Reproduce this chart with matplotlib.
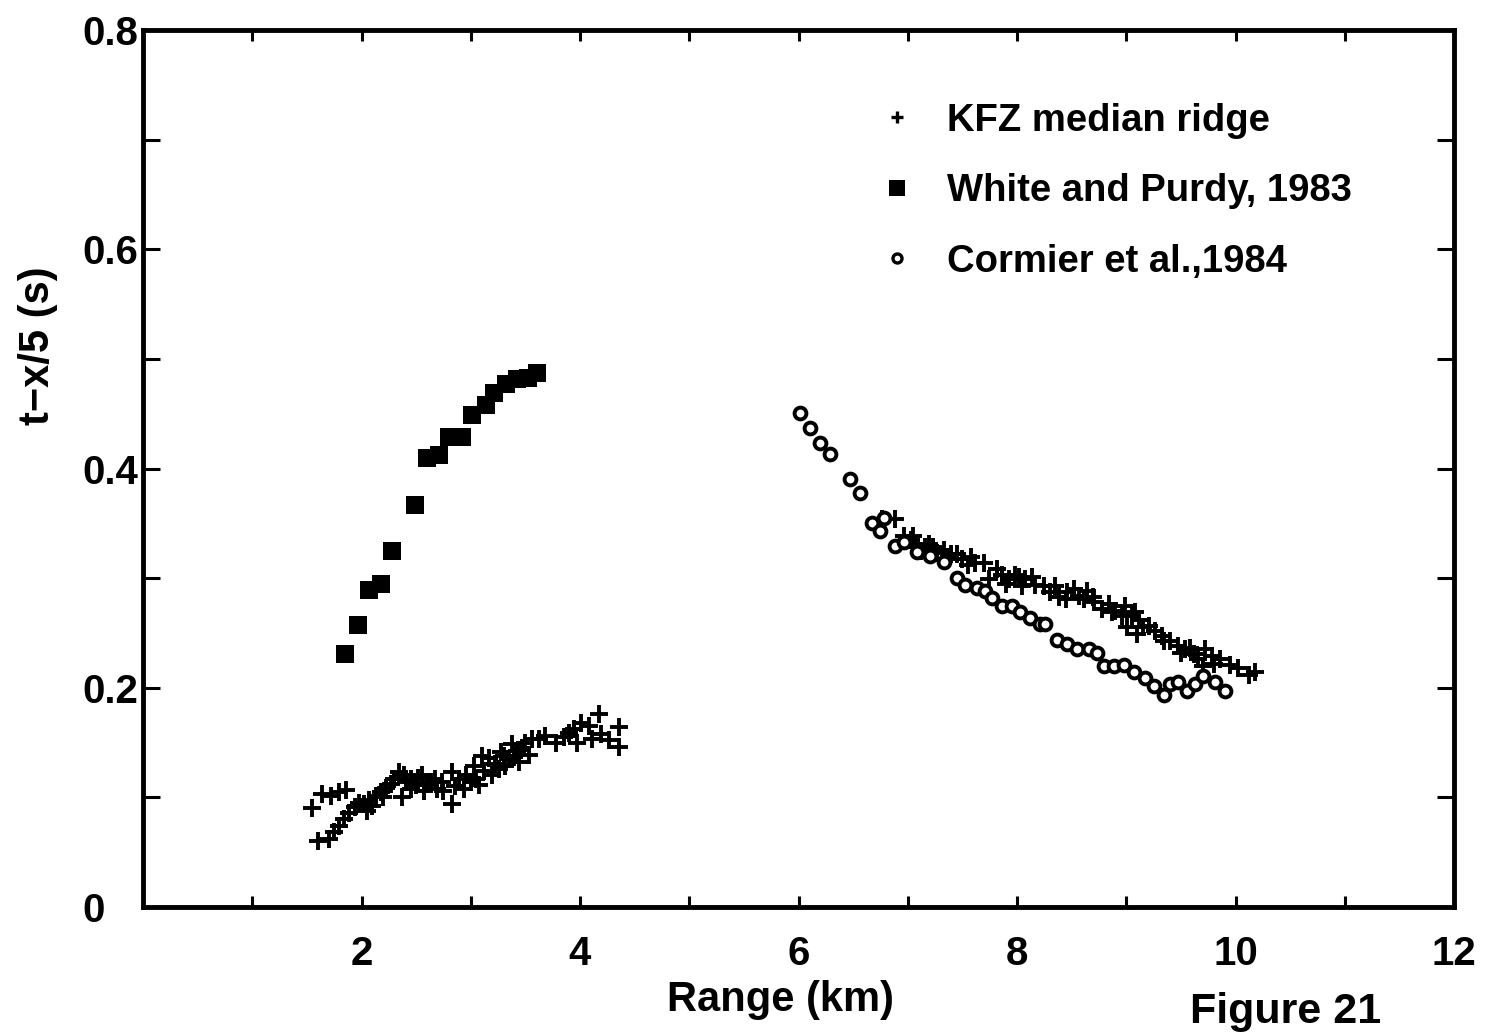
import matplotlib
matplotlib.use("Agg")
import matplotlib.pyplot as plt
from matplotlib.lines import Line2D
from matplotlib.ticker import MultipleLocator

plt.rcParams['font.family'] = ['Liberation Sans', 'DejaVu Sans']
plt.rcParams['font.weight'] = 'bold'

# White and Purdy, 1983 (filled squares)
wp_x = [1.845, 1.97, 2.07, 2.18, 2.28, 2.49, 2.60, 2.71, 2.80, 2.92, 3.01, 3.14,
        3.21, 3.32, 3.42, 3.52, 3.61]
wp_y = [0.231, 0.257, 0.289, 0.295, 0.325, 0.367, 0.410, 0.412, 0.429, 0.429,
        0.449, 0.458, 0.469, 0.477, 0.482, 0.483, 0.487]

# KFZ median ridge (crosses), near-range group
kfz_near_x = [1.549, 1.640, 1.717, 1.793, 1.855, 1.604, 1.702, 1.747, 1.793, 1.839,
              1.885, 1.940, 1.976, 2.022, 2.068, 2.129, 2.175, 2.220, 2.296, 2.342,
              2.388, 2.404, 2.372, 2.449, 2.495, 2.555, 2.571, 2.632, 2.693, 2.738,
              2.830, 2.830, 2.891, 2.937, 2.998, 3.028, 3.074, 3.104, 3.166, 3.196,
              3.257, 3.273, 3.318, 3.349, 3.379, 3.424, 3.440, 3.501, 3.532, 3.562,
              3.623, 3.684, 3.776, 3.852, 3.897, 3.943, 3.974, 4.005, 4.081, 4.111,
              4.172, 4.188, 4.264, 4.355, 4.355,
              2.05, 2.10, 2.20, 2.27, 2.45, 2.52, 2.60, 2.67, 2.75, 2.86, 2.96, 3.05,
              3.12, 3.22, 3.30, 3.40, 3.47]
kfz_near_y = [0.090, 0.103, 0.101, 0.105, 0.107, 0.060, 0.062, 0.068, 0.074, 0.080,
              0.086, 0.091, 0.095, 0.094, 0.098, 0.101, 0.105, 0.109, 0.117, 0.123,
              0.120, 0.114, 0.100, 0.117, 0.111, 0.120, 0.106, 0.114, 0.108, 0.114,
              0.123, 0.094, 0.117, 0.108, 0.114, 0.129, 0.111, 0.138, 0.136, 0.120,
              0.126, 0.141, 0.129, 0.135, 0.149, 0.142, 0.132, 0.150, 0.139, 0.153,
              0.153, 0.156, 0.150, 0.155, 0.159, 0.162, 0.150, 0.168, 0.165, 0.153,
              0.176, 0.158, 0.152, 0.146, 0.164,
              0.088, 0.092, 0.100, 0.112, 0.108, 0.118, 0.112, 0.117, 0.106, 0.110,
              0.120, 0.117, 0.124, 0.130, 0.138, 0.137, 0.145]

# KFZ median ridge (crosses), far-range group
kfz_far_x = [6.761, 6.886, 6.962, 7.026, 7.069, 7.161, 7.191, 7.267, 7.328, 7.374,
             7.447, 7.496, 7.575, 7.618, 7.694, 7.740, 7.813, 7.862, 7.923, 7.984,
             8.015, 8.076, 8.134, 8.167, 8.243, 8.350, 8.381, 8.457, 8.518, 8.564,
             8.609, 8.640, 8.701, 8.777, 8.838, 8.868, 8.960, 8.991, 9.005, 9.082,
             9.097, 9.113, 9.204, 9.265, 9.326, 9.403, 9.478, 9.540, 9.616, 9.661,
             9.707, 9.723, 9.783, 9.860, 9.952, 10.027, 10.119, 10.180,
             7.05, 7.12, 7.23, 7.40, 7.55, 7.90, 8.05, 8.30, 8.45, 8.70, 8.90, 9.05,
             9.15, 9.35, 9.50, 9.58, 9.80]
kfz_far_y = [0.354, 0.354, 0.338, 0.335, 0.331, 0.328, 0.331, 0.323, 0.326, 0.319,
             0.322, 0.317, 0.319, 0.314, 0.314, 0.299, 0.308, 0.303, 0.299, 0.303,
             0.301, 0.299, 0.301, 0.294, 0.293, 0.293, 0.283, 0.287, 0.290, 0.284,
             0.281, 0.288, 0.278, 0.272, 0.276, 0.269, 0.265, 0.275, 0.255, 0.269,
             0.249, 0.262, 0.256, 0.252, 0.247, 0.243, 0.238, 0.235, 0.231, 0.226,
             0.220, 0.235, 0.229, 0.226, 0.221, 0.218, 0.212, 0.214,
             0.338, 0.325, 0.328, 0.322, 0.312, 0.295, 0.293, 0.287, 0.281, 0.283,
             0.270, 0.265, 0.255, 0.243, 0.232, 0.236, 0.222]

# Cormier et al., 1984 (open circles)
cor_x = [6.017, 6.109, 6.200, 6.292, 6.475, 6.566, 6.673, 6.780, 6.749, 6.886,
         6.962, 7.081, 7.207, 7.328, 7.450, 7.527, 7.633, 7.710, 7.771, 7.862,
         7.953, 8.030, 8.122, 8.213, 8.259, 8.365, 8.457, 8.548, 8.655, 8.731,
         8.792, 8.884, 8.975, 9.067, 9.174, 9.250, 9.341, 9.403, 9.478, 9.554,
         9.631, 9.707, 9.814, 9.906]
cor_y = [0.451, 0.437, 0.423, 0.413, 0.390, 0.378, 0.350, 0.355, 0.343, 0.329,
         0.333, 0.324, 0.320, 0.315, 0.300, 0.294, 0.291, 0.288, 0.282, 0.275,
         0.275, 0.269, 0.264, 0.258, 0.258, 0.244, 0.240, 0.235, 0.235, 0.232,
         0.220, 0.220, 0.221, 0.214, 0.209, 0.202, 0.193, 0.203, 0.205, 0.197,
         0.203, 0.211, 0.205, 0.197]

x_ticks = [2, 4, 6, 8, 10, 12]
x_tick_labels = ['2', '4', '6', '8', '10', '12']
y_ticks = [0, 0.2, 0.4, 0.6, 0.8]
y_tick_labels = ['0', '0.2', '0.4', '0.6', '0.8']
legend_labels = ['KFZ median ridge', 'White and Purdy, 1983', 'Cormier et al.,1984']

fig = plt.figure(figsize=(14.85, 10.34), dpi=100)
ax = fig.add_axes([143 / 1485, 1 - 907 / 1034, (1454 - 143) / 1485, (907 - 30) / 1034])

ax.plot(kfz_near_x, kfz_near_y, linestyle='none', marker='+', ms=12.5, mew=2.8, color='black')
ax.plot(kfz_far_x, kfz_far_y, linestyle='none', marker='+', ms=12.5, mew=2.8, color='black')
ax.plot(cor_x, cor_y, linestyle='none', marker='o', ms=8.5, mew=2.8,
        markerfacecolor='white', markeredgecolor='black')
ax.plot(wp_x, wp_y, linestyle='none', marker='s', ms=12.5, mew=0, color='black')

ax.set_xlim(0, 12)
ax.set_ylim(0, 0.8)
ax.xaxis.set_minor_locator(MultipleLocator(1))
ax.yaxis.set_minor_locator(MultipleLocator(0.1))
ax.set_xticks(x_ticks)
ax.set_xticklabels(x_tick_labels)
ax.set_yticks(y_ticks)
ax.set_yticklabels(y_tick_labels)

ax.tick_params(which='both', direction='in', top=True, right=True, width=2.2, length=12,
               labelsize=29)
ax.tick_params(axis='x', which='both', length=8, pad=20)
ax.tick_params(axis='y', which='both', pad=44)
for lab in ax.get_yticklabels():
    lab.set_horizontalalignment('left')
for s in ax.spines.values():
    s.set_linewidth(3.5)

handles = [
    Line2D([], [], linestyle='none', marker='+', ms=9, mew=2.4, color='black'),
    Line2D([], [], linestyle='none', marker='s', ms=12, mew=0, color='black'),
    Line2D([], [], linestyle='none', marker='o', ms=6.5, mew=2.4,
           markerfacecolor='white', markeredgecolor='black'),
]
ax.legend(handles, legend_labels, loc='upper left', bbox_to_anchor=(0.5607, 0.917),
          frameon=False, prop={'size': 27.5, 'weight': 'bold'}, numpoints=1,
          handlelength=1.0, handletextpad=0.8, labelspacing=0.9, borderpad=0,
          borderaxespad=0)

fig.text(780 / 1485, 1 - 1000 / 1034, 'Range (km)', fontsize=30, ha='center', va='center')
fig.text(1286 / 1485, 1 - 1012 / 1034, 'Figure 21', fontsize=31, ha='center', va='center')
fig.text(38 / 1485, 1 - 346 / 1034, 't\u2212x/5 (s)', fontsize=30, rotation=90,
         ha='center', va='center')

fig.savefig('out.png', dpi=100, facecolor='white')
